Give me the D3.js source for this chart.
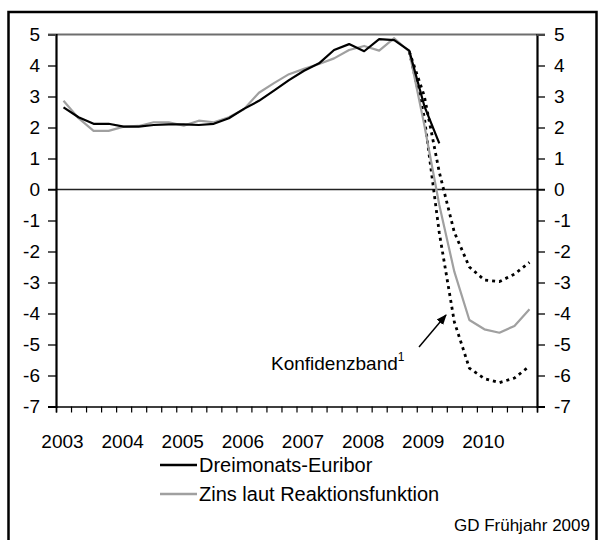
<!DOCTYPE html>
<html>
<head>
<meta charset="utf-8">
<script src="https://cdn.jsdelivr.net/npm/d3@7"></script>
<style>
  html, body { margin: 0; padding: 0; background: #fff; }
  svg { display: block; font-family: "Liberation Sans", Arial, sans-serif; }
</style>
</head>
<body>
<svg id="chart" width="602" height="540"></svg>
<script>
// Quarterly observations, 2003Q1 … 2010Q4
const years = [2003, 2004, 2005, 2006, 2007, 2008, 2009, 2010];
const quarters = years.flatMap(y => [1, 2, 3, 4].map(q => `${y}Q${q}`));

// Dreimonats-Euribor (observed, through 2009Q2)
const euribor = [2.65, 2.33, 2.12, 2.12, 2.03, 2.03, 2.08, 2.10, 2.10, 2.08, 2.12, 2.30,
                 2.60, 2.86, 3.19, 3.53, 3.83, 4.07, 4.50, 4.69, 4.46, 4.85, 4.82, 4.48,
                 2.70, 1.49];

// Zins laut Reaktionsfunktion
const reaktion = [2.86, 2.30, 1.89, 1.89, 2.03, 2.05, 2.17, 2.17, 2.06, 2.22, 2.17, 2.33,
                  2.59, 3.12, 3.43, 3.72, 3.89, 4.05, 4.23, 4.50, 4.63, 4.48, 4.88, 4.45,
                  2.09, -0.50, -2.65, -4.21, -4.51, -4.62, -4.40, -3.86];

// Konfidenzband, starting 2008Q4 (index 23)
const bandStart = 23;
const bandUpper = [4.45, 3.02, 0.56, -1.38, -2.50, -2.92, -2.97, -2.73, -2.35];
const bandLower = [4.45, 2.34, -1.40, -4.27, -5.76, -6.10, -6.23, -6.08, -5.70];

const yTicks = [5, 4, 3, 2, 1, 0, -1, -2, -3, -4, -5, -6, -7];

const svg = d3.select("#chart");
const FS = 19;
const FONT = "Liberation Sans, Arial, sans-serif";

const x = d3.scaleLinear().domain([0, quarters.length]).range([56, 537]);
const y = d3.scaleLinear().domain([-7, 5]).range([406.5, 34.5]);

// outer frame
svg.append("rect")
  .attr("x", 8.5).attr("y", 12).attr("width", 588).attr("height", 560)
  .attr("fill", "none").attr("stroke", "#000").attr("stroke-width", 2.5);

// top border line of the plot area at 5
svg.append("line")
  .attr("x1", 48).attr("x2", 545).attr("y1", y(5)).attr("y2", y(5))
  .attr("stroke", "#6e6e6e").attr("stroke-width", 2);

// zero line
svg.append("line")
  .attr("x1", 48).attr("x2", 545).attr("y1", y(0)).attr("y2", y(0))
  .attr("stroke", "#222").attr("stroke-width", 1.3);

// value axes on both sides, plain hyphen for negatives
const fmt = d => String(d);
const gL = svg.append("g").attr("transform", `translate(${x(0)},0)`)
  .call(d3.axisLeft(y).tickValues(yTicks).tickSize(8).tickPadding(8).tickFormat(fmt));
const gR = svg.append("g").attr("transform", `translate(${x(quarters.length)},0)`)
  .call(d3.axisRight(y).tickValues(yTicks).tickSize(8).tickPadding(9).tickFormat(fmt));
[gL, gR].forEach(g => {
  g.select(".domain").attr("stroke", "#000").attr("stroke-width", 2.2);
  g.selectAll(".tick line").attr("stroke", "#000").attr("stroke-width", 1.3);
  g.selectAll(".tick text").attr("font-size", FS).attr("font-family", FONT).attr("fill", "#000");
  g.selectAll(".tick").filter(d => d === 5).select("line").attr("stroke", "#6e6e6e");
});

// category axis: quarter ticks
const gX = svg.append("g").attr("transform", `translate(0,${y(-7)})`)
  .call(d3.axisBottom(x).tickValues(d3.range(0, quarters.length + 1)).tickSize(6).tickFormat(""));
gX.select(".domain").attr("stroke", "#000").attr("stroke-width", 1.6);
gX.selectAll(".tick line").attr("stroke", "#000").attr("stroke-width", 1.2);

// year labels near the start of each year
const gY = svg.append("g").attr("transform", `translate(0,${y(-7)})`)
  .call(d3.axisBottom(x).tickValues(years.map((_, i) => i * 4 + 0.4)).tickSize(0).tickPadding(28)
    .tickFormat((d, i) => years[i]));
gY.select(".domain").remove();
gY.selectAll(".tick text").attr("font-size", FS).attr("font-family", FONT).attr("fill", "#000");

const px = i => x(i + 0.5);
const line = d3.line().x(d => px(d[0])).y(d => y(d[1]));

// confidence band
[bandUpper, bandLower].forEach(b => {
  svg.append("path")
    .attr("d", line(b.map((v, i) => [bandStart + i, v])))
    .attr("fill", "none").attr("stroke", "#000").attr("stroke-width", 2.8)
    .attr("stroke-dasharray", "3,4");
});

// reaction function rate
svg.append("path")
  .attr("d", line(reaktion.map((v, i) => [i, v])))
  .attr("fill", "none").attr("stroke", "#a0a0a0").attr("stroke-width", 2.2)
  .attr("stroke-linejoin", "round");

// three-month Euribor
svg.append("path")
  .attr("d", line(euribor.map((v, i) => [i, v])))
  .attr("fill", "none").attr("stroke", "#000").attr("stroke-width", 2.2)
  .attr("stroke-linejoin", "round");

// annotation with arrow
const defs = svg.append("defs");
defs.append("marker").attr("id", "arrow")
  .attr("viewBox", "0 0 10 10").attr("refX", 9).attr("refY", 5)
  .attr("markerWidth", 7).attr("markerHeight", 7).attr("orient", "auto")
  .append("path").attr("d", "M0,1 L10,5 L0,9 Z").attr("fill", "#000");
svg.append("line")
  .attr("x1", 419).attr("y1", 347).attr("x2", 446).attr("y2", 315)
  .attr("stroke", "#000").attr("stroke-width", 1.5).attr("marker-end", "url(#arrow)");
const ann = svg.append("text").attr("x", 271).attr("y", 370).attr("font-size", FS).attr("fill", "#000");
ann.append("tspan").text("Konfidenzband");
ann.append("tspan").attr("font-size", 12).attr("dy", -9).text("1");

// legend
const legend = [
  { label: "Dreimonats-Euribor", color: "#000" },
  { label: "Zins laut Reaktionsfunktion", color: "#a0a0a0" }
];
const lg = svg.append("g");
legend.forEach((d, i) => {
  const yy = 465 + i * 29;
  lg.append("line").attr("x1", 160).attr("x2", 197).attr("y1", yy).attr("y2", yy)
    .attr("stroke", d.color).attr("stroke-width", 2.5);
  lg.append("text").attr("x", 199).attr("y", yy).attr("dy", "0.35em")
    .attr("font-size", 20).attr("fill", "#000").text(d.label);
});

// source note
svg.append("text").attr("x", 590).attr("y", 525).attr("dy", "0.35em")
  .attr("text-anchor", "end").attr("font-size", 17).attr("fill", "#000")
  .text("GD Frühjahr 2009");
</script>
</body>
</html>
